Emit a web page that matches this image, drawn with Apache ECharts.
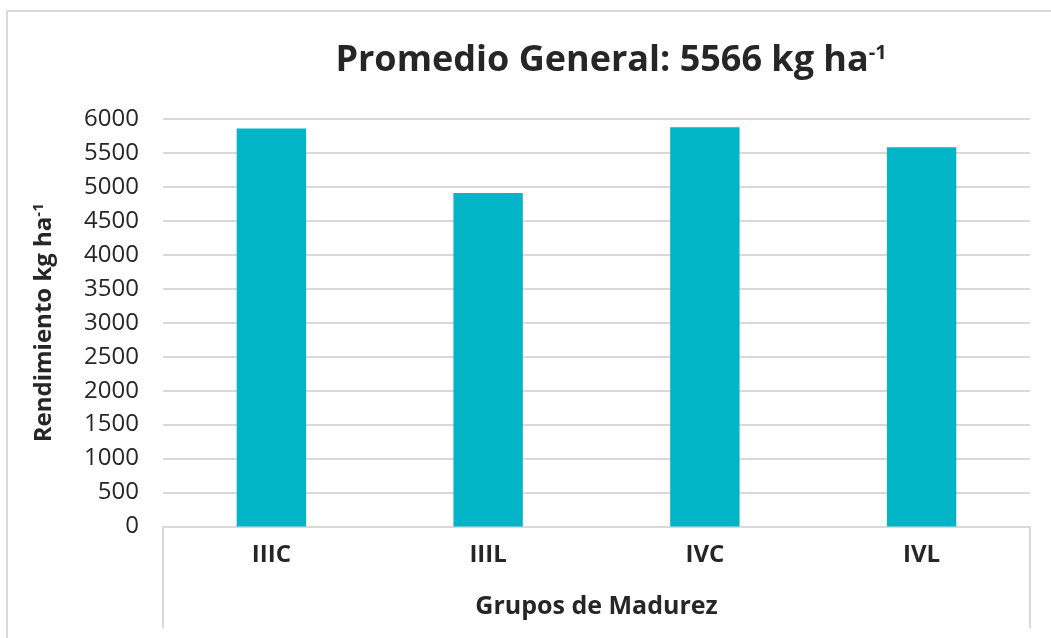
<!DOCTYPE html>
<html>
<head>
<meta charset="utf-8">
<script src="https://cdn.jsdelivr.net/npm/echarts@6/dist/echarts.min.js"></script>
<style>
  html, body {margin: 0; padding: 0; background: #fff;}
  #chart {width: 1051px; height: 638px;}
</style>
</head>
<body>
<div id="chart"></div>
<script>
// datos
const grupos = ['IIIC', 'IIIL', 'IVC', 'IVL']
const rendimiento = [5860, 4910, 5880, 5585]
const yMin = 0
const yMax = 6000
const yPaso = 500

const gris = '#d9d9d9'
const texto = '#262626'
const fuente = '"Open Sans", "Noto Sans", sans-serif'

const chart = echarts.init(document.getElementById('chart'))

chart.setOption({
  animation: false,
  backgroundColor: '#fff',
  textStyle: {fontFamily: fuente},
  title: {
    text: '{t|Promedio General: 5566 kg ha}{s|-1}',
    left: 606,
    textAlign: 'center',
    top: 38,
    textStyle: {
      rich: {
        t: {fontSize: 36, fontWeight: 'bold', color: texto, fontFamily: fuente},
        s: {fontSize: 20, fontWeight: 'bold', color: texto, fontFamily: fuente, verticalAlign: 'top', padding: [0, 0, 16, 0]}
      }
    }
  },
  graphic: [{
    type: 'rect',
    shape: {x: 7, y: 11, width: 1080, height: 660},
    style: {fill: 'none', stroke: gris, lineWidth: 2},
    silent: true,
    z: -1
  }],
  grid: {left: 163, right: 21, top: 119, bottom: 111.5},
  xAxis: [{
    type: 'category',
    data: grupos,
    axisLine: {lineStyle: {color: gris, width: 2}},
    axisTick: {show: false},
    axisLabel: {fontSize: 24, fontWeight: 'bold', color: texto, margin: 17}
  }, {
    type: 'category',
    data: ['Grupos de Madurez'],
    position: 'bottom',
    gridIndex: 0,
    axisLine: {show: false},
    axisTick: {show: true, length: 102, lineStyle: {color: gris, width: 2}},
    axisLabel: {fontSize: 25, fontWeight: 'bold', color: texto, margin: 68}
  }],
  yAxis: {
    type: 'value',
    min: yMin,
    max: yMax,
    interval: yPaso,
    name: '{t|Rendimiento kg ha}{s|-1}',
    nameLocation: 'middle',
    nameRotate: 90,
    nameGap: 106,
    nameTextStyle: {
      rich: {
        t: {fontSize: 24, fontWeight: 'bold', color: texto, fontFamily: fuente},
        s: {fontSize: 15, fontWeight: 'bold', color: texto, fontFamily: fuente, verticalAlign: 'top', padding: [0, 0, 11, 0]}
      }
    },
    axisLine: {show: false},
    axisTick: {show: false},
    axisLabel: {fontSize: 24, color: texto, margin: 24, formatter: v => String(v)},
    splitLine: {lineStyle: {color: gris, width: 2}}
  },
  series: [{
    type: 'bar',
    data: rendimiento,
    barWidth: '32%',
    itemStyle: {color: '#02b5c6'}
  }]
})
</script>
</body>
</html>
